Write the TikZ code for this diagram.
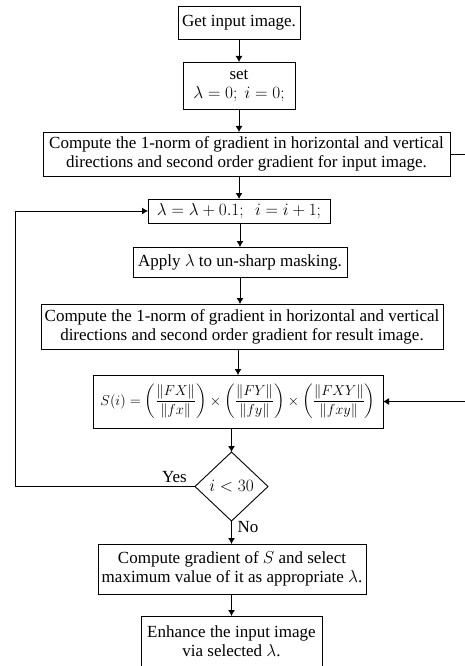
\documentclass[tikz,border=0pt]{standalone}
\usepackage{amsmath}
\usepackage{fontspec}
\setmainfont{Liberation Serif}
\usetikzlibrary{positioning, shapes.geometric, arrows.meta}

\tikzset{
  box/.style={draw, line width=0.9pt, inner sep=1pt, outer sep=0pt, align=center,
    font=\fontsize{17}{19}\selectfont},
  decision/.style={draw, diamond, aspect=1, line width=0.9pt, inner sep=0pt, outer sep=0pt,
    font=\fontsize{16}{19}\selectfont},
  flow/.style={line width=0.9pt, -{Latex[length=6pt,width=7pt]}},
  tag/.style={inner sep=0pt, font=\fontsize{17}{19}\selectfont}
}

\begin{document}
\begin{tikzpicture}[x=1pt, y=-1pt]
  \useasboundingbox (0,0) rectangle (464,666);
  \node [box, minimum width=122, minimum height=33] (get) at (239,22.5) {Get input image.};
  \node [box, below=23pt of get, minimum width=112, minimum height=47] (init) {set\\ $\lambda=0;\ i=0;$};
  \node [box, below=23pt of init, xshift=7.5pt, minimum width=407, minimum height=44] (normin)
    {Compute the 1-norm of gradient in horizontal and vertical\\ directions and second order gradient for input image.};
  \node [box, below=23pt of normin, xshift=-7.5pt, minimum width=182, minimum height=24] (step)
    {$\lambda=\lambda+0.1;\ \ i=i+1;$};
  \node [box, below=24pt of step, xshift=1pt, minimum width=214, minimum height=30] (mask)
    {Apply $\lambda$ to un-sharp masking.};
  \node [box, below=27pt of mask, xshift=2pt, minimum width=402, minimum height=45] (normres)
    {Compute the 1-norm of gradient in horizontal and vertical\\ directions and second order gradient for result image.};
  \node [box, below=26pt of normres, xshift=-4pt, minimum width=290, minimum height=53,
    inner sep=0pt, font=\fontsize{15.3}{19}\selectfont] (score)
    {$S(i)=\left(\dfrac{\|FX\|}{\|fx\|}\right)\times\left(\dfrac{\|FY\|}{\|fy\|}\right)\times\left(\dfrac{\|FXY\|}{\|fxy\|}\right)$};
  \node [decision, below=24pt of score, xshift=-6.5pt, minimum width=73, minimum height=69] (test) {$i<30$};
  \node [box, below=23pt of test, xshift=0.5pt, minimum width=268, minimum height=50] (pick)
    {Compute gradient of $S$ and select\\ maximum value of it as appropriate $\lambda$.};
  \node [box, below=22pt of pick, xshift=-0.5pt, minimum width=181, minimum height=50] (enh)
    {Enhance the input image\\ via selected $\lambda$.};

  \node [tag, above left=4pt and 8pt of test.west] (yes) {Yes};
  \node [tag, below right=0pt and 6pt of test.south] (no) {No};

  \coordinate [left=180pt of test.west] (loopl);
  \coordinate [right=30pt of normin.east] (sidetop);
  \coordinate [right=88pt of score.east] (sidebot);

  \draw [flow] (get) -- (init);
  \draw [flow] (init) -- (init |- normin.north);
  \draw [flow] (normin.south -| step) -- (step.north);
  \draw [flow] (step.south -| mask) -- (mask.north);
  \draw [flow] (mask) -- (mask |- normres.north);
  \draw [flow] (normres.south -| score) -- (score.north);
  \draw [flow] (score.south -| test) -- (test.north);
  \draw [flow] (test.south) -- (test |- pick.north);
  \draw [flow] (pick.south -| enh) -- (enh.north);
  \draw [flow] (test.west) -- (loopl) |- (step.west);
  \draw [flow] (normin.east) -- (sidetop) |- (sidebot) -- (score.east);
\end{tikzpicture}
\end{document}
